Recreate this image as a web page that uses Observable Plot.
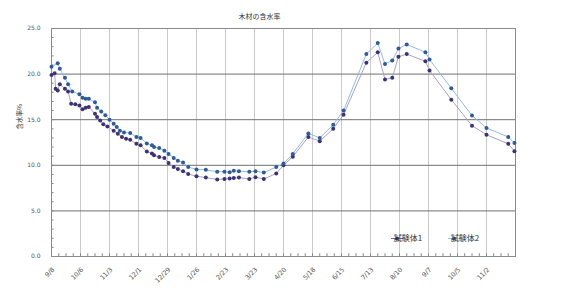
<!DOCTYPE html>
<html><head><meta charset="utf-8">
<script src="https://cdn.jsdelivr.net/npm/d3@7"></script>
<script src="https://cdn.jsdelivr.net/npm/@observablehq/plot@0.6"></script>
<style>body{margin:0;background:#fff;} svg{display:block;}</style>
</head><body><div id="chart"></div>
<script>
const chartTitle = "木材の含水率";
const yLabel = "含水率%";
const seriesNames = ["試験体1", "試験体2"];
const tickDays = [0, 28, 56, 84, 112, 140, 168, 196, 224, 252, 280, 308, 336, 364, 392, 420];
const tickLabels = ["9/8", "10/6", "11/3", "12/1", "12/29", "1/26", "2/23", "3/23", "4/20", "5/18", "6/15", "7/13", "8/10", "9/7", "10/5", "11/2"];
const yTicks = [0, 5, 10, 15, 20, 25];

const s1Days = [0,3,4,6,8,13,16,19,23,27,30,33,36,42,44,47,50,54,60,64,68,72,76,82,86,92,97,99,104,109,113,118,122,127,132,140,149,160,167,172,176,181,191,197,205,217,224,233,248,259,272,282,304,315,322,329,335,343,361,365,386,406,420,441,447];
const s1Vals = [19.9,20.1,18.4,18.2,18.9,18.4,18.1,16.75,16.7,16.55,16.15,16.3,16.4,15.65,15.3,14.9,14.5,14.25,13.8,13.45,13.1,12.9,12.8,12.35,12.2,11.5,11.3,11.1,10.9,10.8,10.25,9.8,9.6,9.35,9.05,8.8,8.65,8.45,8.5,8.55,8.6,8.65,8.5,8.7,8.5,9.1,10.0,10.95,13.1,12.65,14.0,15.55,21.25,22.4,19.4,19.6,21.9,22.2,21.4,20.4,17.2,14.35,13.35,12.35,11.55];

const s2Days = [0,6,8,13,16,20,27,30,33,36,42,44,48,52,56,60,63,66,70,76,82,86,92,97,99,104,109,113,118,122,127,132,140,149,160,167,172,176,181,191,197,205,217,224,233,248,259,272,282,304,315,322,329,335,343,361,365,386,406,420,441,447];
const s2Vals = [20.8,21.2,20.6,19.6,18.9,18.1,17.8,17.4,17.3,17.3,16.9,16.3,15.9,15.5,15.0,14.55,14.2,13.8,13.6,13.55,13.1,13.0,12.4,12.2,12.0,11.9,11.6,11.25,10.8,10.5,10.3,9.8,9.55,9.5,9.3,9.3,9.25,9.4,9.35,9.3,9.35,9.2,9.8,10.2,11.25,13.5,13.0,14.45,16.0,22.2,23.4,21.1,21.5,22.8,23.25,22.4,21.6,18.45,15.45,14.1,13.1,12.45];

const s1 = s1Days.map((d, i) => ({day: d, v: s1Vals[i]}));
const s2 = s2Days.map((d, i) => ({day: d, v: s2Vals[i]}));
const minorX = d3.range(7, 448, 7);
const minorY = d3.range(1, 25, 1);

const c1Line = "#a8a2c6", c1Dot = "#3d3272";
const c2Line = "#92bbe0", c2Dot = "#2f5b98";

const chart = Plot.plot({
  width: 567, height: 296,
  marginLeft: 51, marginRight: 52, marginTop: 28, marginBottom: 40,
  style: {fontFamily: "'DejaVu Sans', 'Noto Sans CJK JP', sans-serif", fontSize: "6px", background: "#fff", color: "#555"},
  x: {domain: [0, 448], axis: null},
  y: {domain: [0, 25]},
  marks: [
    Plot.ruleX(tickDays.slice(1), {stroke: "#cacaca", strokeWidth: 1}),
    Plot.ruleY(yTicks.slice(1, -1), {stroke: "#707070", strokeWidth: 1}),
    Plot.ruleX(minorX, {y1: 0, y2: 0.3, stroke: "#888"}),
    Plot.ruleY(minorY, {x1: 0, x2: 2.5, stroke: "#888"}),
    Plot.frame({stroke: "#8a8a8a"}),
    Plot.axisY({ticks: yTicks, tickFormat: d => d.toFixed(1), tickSize: 0, tickPadding: 11, label: null, fill: "#555"}),
    Plot.text(tickDays, {x: d => d, frameAnchor: "bottom", text: d => tickLabels[tickDays.indexOf(d)], rotate: -45, textAnchor: "end", lineAnchor: "middle", dy: 12, dx: 2, fill: "#555", fontSize: 6.5}),
    Plot.line(s1, {x: "day", y: "v", stroke: c1Line, strokeWidth: 1}),
    Plot.line(s2, {x: "day", y: "v", stroke: c2Line, strokeWidth: 1}),
    Plot.dot(s1, {x: "day", y: "v", r: 2, fill: c1Dot}),
    Plot.dot(s2, {x: "day", y: "v", r: 2, fill: c2Dot}),
    Plot.text([chartTitle], {frameAnchor: "top", dx: -24, dy: -14, fontSize: 7, fill: "#333", fontFamily: "'Noto Sans CJK JP'"}),
    Plot.text([yLabel], {frameAnchor: "left", dx: -32, dy: -13, rotate: -90, fontSize: 6.5, fill: "#333", fontFamily: "'Noto Sans CJK JP'"})
  ]
});

// legend inside the plot area
const svg = d3.select(chart);
const leg = svg.append("g").attr("font-family", "'Noto Sans CJK JP'").attr("font-size", 8).attr("fill", "#333");
const items = [
  {name: seriesNames[0], x: 391, line: "#6a6f9a", dot: c1Dot},
  {name: seriesNames[1], x: 448, line: c2Line, dot: c2Dot}
];
items.forEach(it => {
  const y = 238.5;
  leg.append("line").attr("x1", it.x).attr("x2", it.x + 12).attr("y1", y).attr("y2", y).attr("stroke", it.line);
  leg.append("circle").attr("cx", it.x + 6).attr("cy", y).attr("r", 2).attr("fill", it.dot);
  leg.append("text").attr("x", it.x + 17).attr("y", y).attr("dy", "0.35em").text(it.name);
});

document.getElementById("chart").append(chart);
</script>
</body></html>
